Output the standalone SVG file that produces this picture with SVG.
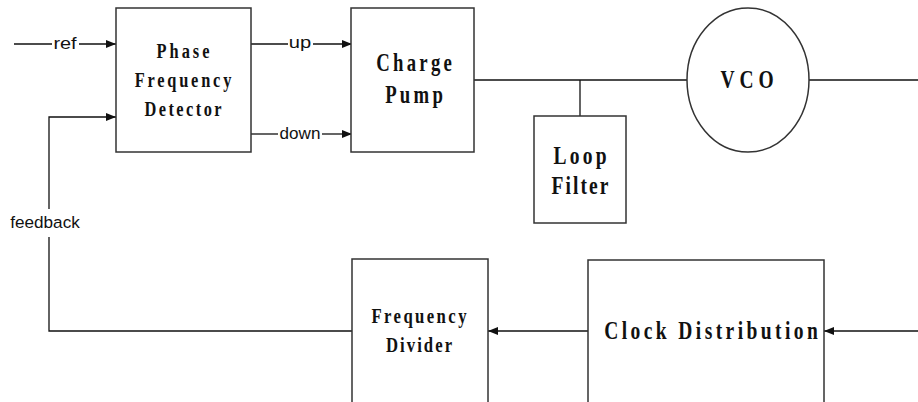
<svg xmlns="http://www.w3.org/2000/svg" width="918" height="402" viewBox="0 0 918 402">
<style>
.box{fill:#fff;stroke:#333;stroke-width:1.5}
.ln{fill:none;stroke:#111;stroke-width:1.3}
.t{font-family:"Liberation Serif",serif;font-weight:bold;fill:#111;text-anchor:middle}
.l{font-family:"Liberation Sans",sans-serif;fill:#111;text-anchor:middle;font-size:17px}
</style>
<defs>
<marker id="ah" viewBox="0 0 10 8" refX="10" refY="4" markerWidth="10" markerHeight="8" markerUnits="userSpaceOnUse" orient="auto">
<path d="M0,0 L10,4 L0,8 Z" fill="#111"/>
</marker>
</defs>
<g id="connectors">
<path class="ln" d="M14,44 H52"/>
<path class="ln" d="M79,44 H116" marker-end="url(#ah)"/>
<path class="ln" d="M251,44 H288"/>
<path class="ln" d="M313,44 H352" marker-end="url(#ah)"/>
<path class="ln" d="M251,134 H278"/>
<path class="ln" d="M322,134 H352" marker-end="url(#ah)"/>
<path class="ln" d="M49,209 V117 H116" marker-end="url(#ah)"/>
<path class="ln" d="M352,331 H49 V237"/>
<path class="ln" d="M474,80 H687"/>
<path class="ln" d="M580,80 V116"/>
<path class="ln" d="M809,80 H918"/>
<path class="ln" d="M588,331 H488" marker-end="url(#ah)"/>
<path class="ln" d="M918,331 H824" marker-end="url(#ah)"/>
<text class="l" transform="translate(65,49) scale(0.8,1)" textLength="29" lengthAdjust="spacingAndGlyphs">ref</text>
<text class="l" transform="translate(300,48) scale(0.8,1)" textLength="28" lengthAdjust="spacingAndGlyphs">up</text>
<text class="l" transform="translate(300,139) scale(0.8,1)" textLength="51" lengthAdjust="spacingAndGlyphs">down</text>
<text class="l" transform="translate(45,228) scale(0.8,1)" textLength="87" lengthAdjust="spacingAndGlyphs">feedback</text>
</g>
<g id="pfd">
<rect class="box" x="116" y="8" width="135" height="144"/>
<text class="t" transform="translate(183,58) scale(0.78,1)" font-size="21" textLength="68">Phase</text>
<text class="t" transform="translate(183,87) scale(0.78,1)" font-size="21" textLength="124">Frequency</text>
<text class="t" transform="translate(183,116) scale(0.78,1)" font-size="21" textLength="99">Detector</text>
</g>
<g id="charge-pump">
<rect class="box" x="351" y="8" width="123" height="144"/>
<text class="t" transform="translate(414,71) scale(0.75,1)" font-size="25" textLength="101">Charge</text>
<text class="t" transform="translate(414,103) scale(0.75,1)" font-size="25" textLength="77">Pump</text>
</g>
<g id="loop-filter">
<rect class="box" x="534" y="116" width="92" height="107"/>
<text class="t" transform="translate(580,164) scale(0.75,1)" font-size="26" textLength="71">Loop</text>
<text class="t" transform="translate(580,194) scale(0.75,1)" font-size="26" textLength="76">Filter</text>
</g>
<g id="vco">
<ellipse class="box" cx="748" cy="80" rx="61" ry="72"/>
<text class="t" transform="translate(747,88) scale(0.75,1)" font-size="26" textLength="71">VCO</text>
</g>
<g id="frequency-divider">
<rect class="box" x="352" y="259" width="136" height="160"/>
<text class="t" transform="translate(419,323) scale(0.76,1)" font-size="22" textLength="125">Frequency</text>
<text class="t" transform="translate(419,352) scale(0.76,1)" font-size="22" textLength="87">Divider</text>
</g>
<g id="clock-distribution">
<rect class="box" x="588" y="260" width="236" height="160"/>
<text class="t" transform="translate(711,339) scale(0.75,1)" font-size="26" textLength="285">Clock Distribution</text>
</g>
</svg>
